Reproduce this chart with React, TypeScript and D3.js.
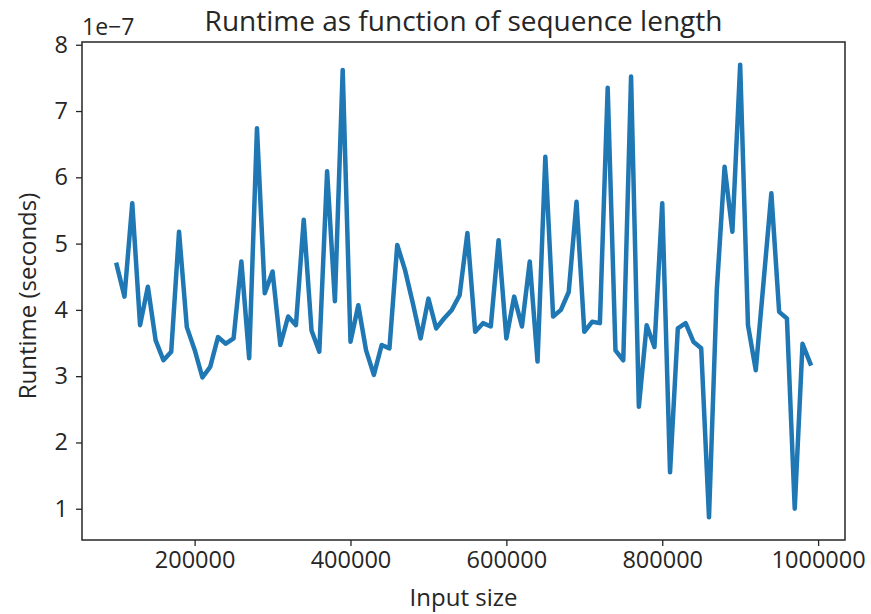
import React, { useEffect, useRef } from 'react';
import * as d3 from 'd3';

// x: input size
const inputSizes: number[] = [
  100000, 110000, 120000, 130000, 140000, 150000, 160000, 170000, 180000, 190000,
  200000, 210000, 220000, 230000, 240000, 250000, 260000, 270000, 280000, 290000,
  300000, 310000, 320000, 330000, 340000, 350000, 360000, 370000, 380000, 390000,
  400000, 410000, 420000, 430000, 440000, 450000, 460000, 470000, 480000, 490000,
  500000, 510000, 520000, 530000, 540000, 550000, 560000, 570000, 580000, 590000,
  600000, 610000, 620000, 630000, 640000, 650000, 660000, 670000, 680000, 690000,
  700000, 710000, 720000, 730000, 740000, 750000, 760000, 770000, 780000, 790000,
  800000, 810000, 820000, 830000, 840000, 850000, 860000, 870000, 880000, 890000,
  900000, 910000, 920000, 930000, 940000, 950000, 960000, 970000, 980000, 990000,
];

// y: runtime, in units of 1e-7 seconds
const runtimes: number[] = [
  4.68, 4.20, 5.61, 3.77, 4.35, 3.54, 3.24, 3.37, 5.18, 3.74,
  3.40, 2.98, 3.14, 3.59, 3.49, 3.57, 4.73, 3.27, 6.74, 4.25,
  4.58, 3.47, 3.90, 3.77, 5.36, 3.69, 3.37, 6.09, 4.13, 7.62,
  3.52, 4.07, 3.39, 3.02, 3.47, 3.42, 4.98, 4.60, 4.10, 3.57,
  4.17, 3.72, 3.87, 4.00, 4.22, 5.16, 3.67, 3.80, 3.75, 5.05,
  3.57, 4.20, 3.75, 4.73, 3.22, 6.31, 3.90, 4.00, 4.27, 5.63,
  3.67, 3.82, 3.80, 7.35, 3.39, 3.24, 7.52, 2.54, 3.77, 3.44,
  5.61, 1.55, 3.72, 3.80, 3.52, 3.42, 0.87, 4.30, 6.16, 5.18,
  7.70, 3.77, 3.09, 4.42, 5.76, 3.97, 3.87, 1.00, 3.49, 3.19,
];

const offsetText = '1e\u22127';
const title = 'Runtime as function of sequence length';
const xLabel = 'Input size';
const yLabel = 'Runtime (seconds)';

const W = 871, H = 614;
const margin = { top: 42, right: 26, bottom: 74, left: 82 };
const FONT = '"Open Sans", "DejaVu Sans", sans-serif';
const INK = '#262626';

// matplotlib style 5% padding around the data
function padded(ext: [number, number]): [number, number] {
  const d = (ext[1] - ext[0]) * 0.05;
  return [ext[0] - d, ext[1] + d];
}

export default function App() {
  const ref = useRef<SVGSVGElement>(null);

  useEffect(() => {
    document.body.style.margin = '0';
    const svg = d3.select(ref.current);
    svg.selectAll('*').remove();

    const iw = W - margin.left - margin.right;
    const ih = H - margin.top - margin.bottom;

    const x = d3.scaleLinear()
      .domain(padded(d3.extent(inputSizes) as [number, number]))
      .range([0, iw]);
    const y = d3.scaleLinear()
      .domain(padded(d3.extent(runtimes) as [number, number]))
      .range([ih, 0]);

    const g = svg.append('g')
      .attr('transform', `translate(${margin.left},${margin.top})`);

    // line
    const line = d3.line<number>()
      .x((d, i) => x(inputSizes[i]))
      .y(d => y(d));

    g.append('path')
      .datum(runtimes)
      .attr('fill', 'none')
      .attr('stroke', '#1f77b4')
      .attr('stroke-width', 4.5)
      .attr('stroke-linejoin', 'round')
      .attr('stroke-linecap', 'square')
      .attr('d', line);

    // axes
    const xAxis = g.append('g')
      .attr('transform', `translate(0,${ih})`)
      .call(d3.axisBottom(x).ticks(5).tickFormat(d3.format('d')).tickSize(6).tickPadding(5));
    const yAxis = g.append('g')
      .call(d3.axisLeft(y).ticks(8).tickFormat(d3.format('d')).tickSize(6).tickPadding(8));

    [xAxis, yAxis].forEach(a => {
      a.select('.domain').remove();
      a.selectAll('line').attr('stroke', INK).attr('stroke-width', 1.3);
      a.selectAll('text')
        .attr('fill', INK)
        .style('font-family', FONT)
        .style('font-size', '23.5px');
    });

    // frame (spines)
    g.append('rect')
      .attr('width', iw)
      .attr('height', ih)
      .attr('fill', 'none')
      .attr('stroke', INK)
      .attr('stroke-width', 1.5);

    // offset text
    svg.append('text')
      .attr('x', margin.left)
      .attr('y', 35)
      .attr('fill', INK)
      .style('font-family', FONT)
      .style('font-size', '23px')
      .text(offsetText);

    // title
    svg.append('text')
      .attr('x', margin.left + iw / 2)
      .attr('y', 31)
      .attr('text-anchor', 'middle')
      .attr('fill', INK)
      .style('font-family', FONT)
      .style('font-size', '28px')
      .text(title);

    // axis labels
    svg.append('text')
      .attr('x', margin.left + iw / 2)
      .attr('y', 606)
      .attr('text-anchor', 'middle')
      .attr('fill', INK)
      .style('font-family', FONT)
      .style('font-size', '24px')
      .text(xLabel);

    svg.append('text')
      .attr('transform', `translate(36,${margin.top + ih / 2 + 5}) rotate(-90)`)
      .attr('text-anchor', 'middle')
      .attr('fill', INK)
      .style('font-family', FONT)
      .style('font-size', '24px')
      .text(yLabel);
  }, []);

  return <svg ref={ref} width={W} height={H} style={{ display: 'block', background: '#fff' }} />;
}
